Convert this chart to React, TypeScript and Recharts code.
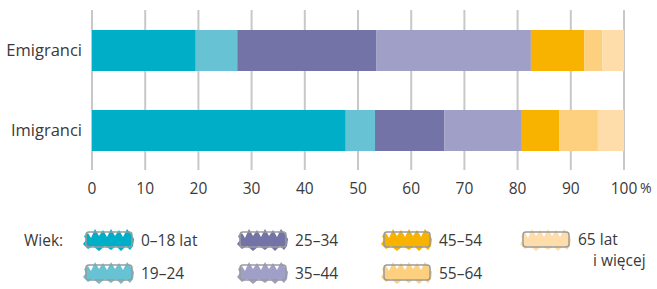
import React from "react";
import { BarChart, Bar, XAxis, YAxis, CartesianGrid } from "recharts";

/** Age groups (stack order, left to right) */
const groups = ["0–18 lat", "19–24", "25–34", "35–44", "45–54", "55–64", "65 lat i więcej"];
const groupKeys = ["g0", "g1", "g2", "g3", "g4", "g5", "g6"];
const groupColors = ["#00aec7", "#67c3d4", "#7373a8", "#a09fc7", "#f8b200", "#fdd07f", "#feddaa"];

/** Shares in % */
const categories = ["Emigranci", "Imigranci"];
const emigranci = [19.5, 7.8, 26.1, 29.1, 10.0, 3.4, 4.1];
const imigranci = [47.7, 5.5, 13.0, 14.6, 7.0, 7.3, 4.9];

const xTicks = [0, 10, 20, 30, 40, 50, 60, 70, 80, 90, 100];

const FONT = "'Open Sans', sans-serif";
const TEXT = "#3a3a3a";

const rows = [emigranci, imigranci].map((vals, i) => {
  const row: Record<string, number | string> = { name: categories[i] };
  vals.forEach((v, j) => (row[groupKeys[j]] = v));
  return row;
});

function XTick({ x, y, payload }: any) {
  const v = payload.value;
  return (
    <g>
      <text x={x} y={y + 5} dy="0.71em" textAnchor="middle" fontSize={15.5} fill={TEXT} fontFamily={FONT}>
        {v}
      </text>
      {v === 100 && (
        <text x={x + 16} y={y + 5} dy="0.71em" textAnchor="start" fontSize={14} fill={TEXT} fontFamily={FONT}>
          %
        </text>
      )}
    </g>
  );
}

function YTick({ x, y, payload }: any) {
  return (
    <text x={x - 2} y={y} dy="0.35em" textAnchor="end" fontSize={16.5} fill={TEXT} fontFamily={FONT}>
      {payload.value}
    </text>
  );
}

/** hand-drawn looking swatch: scribbled fill with a grey outline */
function Swatch({ color }: { color: string }) {
  return (
    <svg width={56} height={26} style={{ display: "block" }}>
      <path
        d="M3 10 L7 7 L10 12 L14 3 L18 10 L22 4 L26 11 L30 3 L34 10 L38 4 L42 11 L46 3 L50 8 L53 13 L52 20 L49 24 L45 20 L40 25 L35 20 L30 24 L24 20 L18 25 L12 20 L7 23 L2 18 L5 14 Z"
        fill={color}
      />
      <rect x={5} y={6} width={46} height={15} rx={3} fill="none" stroke="#9a9a9a" strokeWidth={1.5} />
    </svg>
  );
}

const legendCols = [83, 237, 381, 520];

function AgeLegend() {
  return (
    <div style={{ position: "absolute", left: 0, top: 226, width: 657, height: 63, fontFamily: FONT, color: TEXT, fontSize: 15.5, lineHeight: "20px" }}>
      <div style={{ position: "absolute", left: 24, top: 4 }}>Wiek:</div>
      {groups.map((g, i) => {
        const col = Math.floor(i / 2);
        const row = i % 2;
        const left = legendCols[col];
        const top = row * 33;
        const last = i === groups.length - 1;
        return (
          <div key={g} style={{ position: "absolute", left, top }}>
            <div style={{ position: "absolute", left: -2, top: 0 }}>
              <Swatch color={groupColors[i]} />
            </div>
            {last ? (
              <>
                <div style={{ position: "absolute", left: 58, top: 3, whiteSpace: "nowrap" }}>65 lat</div>
                <div style={{ position: "absolute", left: 73, top: 24, whiteSpace: "nowrap" }}>i więcej</div>
              </>
            ) : (
              <div style={{ position: "absolute", left: 58, top: 4, whiteSpace: "nowrap" }}>{g}</div>
            )}
          </div>
        );
      })}
    </div>
  );
}

export default function App() {
  return (
    <div style={{ position: "absolute", left: 0, top: 0, width: 657, height: 289, background: "#fff" }}>
      <BarChart
        width={657}
        height={200}
        data={rows}
        layout="vertical"
        margin={{ top: 10, right: 33, bottom: 0, left: 0 }}
        barCategoryGap={0}
      >
        <CartesianGrid horizontal={false} stroke="#c8c8c8" strokeWidth={2} />
        <XAxis
          type="number"
          domain={[0, 100]}
          ticks={xTicks}
          interval={0}
          axisLine={false}
          tickLine={false}
          height={30}
          tick={<XTick />}
        />
        <YAxis
          type="category"
          dataKey="name"
          width={92}
          axisLine={false}
          tickLine={false}
          tick={<YTick />}
        />
        {groupKeys.map((k, i) => (
          <Bar key={k} dataKey={k} stackId="a" fill={groupColors[i]} barSize={41} isAnimationActive={false} />
        ))}
      </BarChart>
      <AgeLegend />
    </div>
  );
}
